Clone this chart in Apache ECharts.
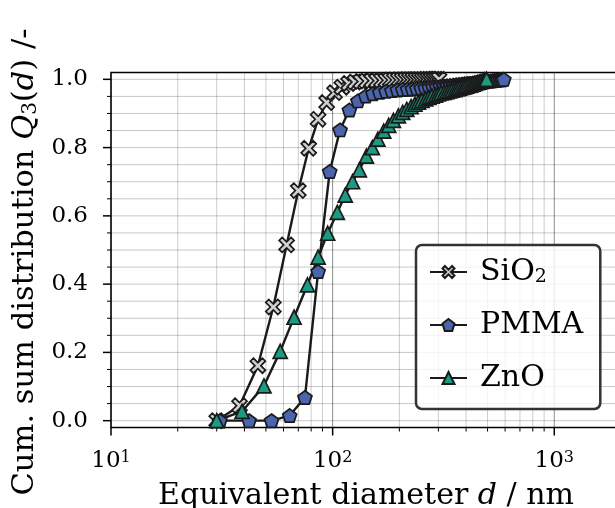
<!DOCTYPE html>
<html>
<head>
<meta charset="utf-8">
<script src="https://cdn.jsdelivr.net/npm/echarts@6/dist/echarts.min.js"></script>
<style>
html, body { margin: 0; padding: 0; background: #fff; }
#main { width: 615px; height: 508px; }
</style>
</head>
<body>
<div id="main"></div>
<script>
// measured data: equivalent diameter (nm) and cumulative Q3
var sio2D = [30, 38, 46, 54, 62, 70, 78, 86, 94, 102, 110, 118, 126, 134, 142, 150, 158, 166, 174, 182,
    190, 198, 206, 214, 222, 230, 238, 246, 254, 262, 270, 278, 286, 294, 302];
var sio2Q = [0.0, 0.044, 0.161, 0.333, 0.515, 0.674, 0.798, 0.883, 0.932, 0.961, 0.977, 0.988, 0.992, 0.994, 0.995, 0.996, 0.996, 0.997, 0.997, 0.998,
    0.998, 0.998, 0.998, 0.999, 0.999, 0.999, 0.999, 0.999, 0.999, 1.0, 1.0, 1.0, 1.0, 1.0, 1.0];

var pmmaD = [31, 42, 53, 64, 75, 86, 97, 108, 119, 130, 141, 152, 163, 174, 185, 196, 207, 218, 229, 240,
    251, 262, 273, 284, 295, 306, 317, 328, 339, 350, 361, 372, 383, 394, 405, 416, 427, 438, 449, 460,
    471, 482, 493, 504, 515, 526, 537, 548, 559, 570, 581, 592];
var pmmaQ = [0.0, 0.0, 0.0, 0.015, 0.068, 0.437, 0.73, 0.852, 0.91, 0.937, 0.951, 0.958, 0.962, 0.965, 0.967, 0.969, 0.970, 0.971, 0.972, 0.973,
    0.974, 0.975, 0.976, 0.977, 0.978, 0.979, 0.980, 0.981, 0.982, 0.983, 0.984, 0.985, 0.986, 0.987, 0.988, 0.988, 0.989, 0.990, 0.991, 0.992,
    0.992, 0.993, 0.994, 0.995, 0.995, 0.996, 0.997, 0.997, 0.998, 0.999, 0.999, 1.0];

var znoD = [30, 39, 49, 58, 67, 77, 86, 95, 105, 114, 123, 132, 142, 151, 160, 170, 179, 188, 198, 207,
    216, 226, 235, 244, 253, 263, 272, 281, 291, 300, 309, 319, 328, 337, 346, 356, 365, 374, 384, 393,
    402, 412, 421, 430, 439, 449, 458, 467, 477, 486, 495];
var znoQ = [0.0, 0.027, 0.102, 0.203, 0.303, 0.398, 0.479, 0.549, 0.61, 0.661, 0.70, 0.735, 0.775, 0.80, 0.825, 0.848, 0.865, 0.88, 0.893, 0.903,
    0.912, 0.92, 0.927, 0.933, 0.938, 0.943, 0.947, 0.951, 0.954, 0.957, 0.96, 0.962, 0.964, 0.966, 0.968, 0.97, 0.972, 0.974, 0.976, 0.978,
    0.98, 0.982, 0.984, 0.986, 0.988, 0.99, 0.992, 0.994, 0.996, 0.998, 1.0];

// ticks / grid lines
var xMajor = [10, 100, 1000];
var xMinor = [20, 30, 40, 50, 60, 70, 80, 90, 200, 300, 400, 500, 600, 700, 800, 900, 2000];
var yMajor = [0, 0.2, 0.4, 0.6, 0.8, 1.0];
var yMinor = [0.05, 0.1, 0.15, 0.25, 0.3, 0.35, 0.45, 0.5, 0.55, 0.65, 0.7, 0.75, 0.85, 0.9, 0.95];

var FONT = "'DejaVu Serif', serif";
var EDGE = '#1a1a1a';

var symX = 'path://M2,0 L5,3 L8,0 L10,2 L7,5 L10,8 L8,10 L5,7 L2,10 L0,8 L3,5 L0,2 Z';
var symPent = 'path://M50,0 L97.6,34.5 L79.4,90.5 L20.6,90.5 L2.4,34.5 Z';

function pairs(d, q) {
    var out = [];
    for (var i = 0; i < d.length; i++) out.push([d[i], q[i]]);
    return out;
}

function makeSeries(name, d, q, symbol, size, color) {
    return {
        name: name,
        type: 'line',
        data: pairs(d, q),
        symbol: symbol,
        symbolSize: size,
        symbolKeepAspect: true,
        showAllSymbol: true,
        z: 3,
        lineStyle: { color: EDGE, width: 2.4 },
        itemStyle: { color: color, borderColor: EDGE, borderWidth: 1.7 }
    };
}

// grid line + tick for x values
function renderXGrid(params, api) {
    var cs = params.coordSys;
    var px = api.coord([api.value(0), 0.5])[0];
    var major = api.value(2) === 1;
    var bottom = cs.y + cs.height;
    return {
        type: 'group',
        children: [
            { type: 'line', shape: { x1: px, y1: cs.y, x2: px, y2: bottom },
              style: { stroke: major ? 'rgba(0,0,0,0.45)' : 'rgba(0,0,0,0.2)', lineWidth: 1 } },
            { type: 'line', shape: { x1: px, y1: bottom, x2: px, y2: bottom + (major ? 8 : 4) },
              style: { stroke: '#000', lineWidth: major ? 1.5 : 1 } }
        ]
    };
}

function renderYGrid(params, api) {
    var cs = params.coordSys;
    var py = api.coord([100, api.value(1)])[1];
    var major = api.value(2) === 1;
    return {
        type: 'group',
        children: [
            { type: 'line', shape: { x1: cs.x, y1: py, x2: cs.x + cs.width, y2: py },
              style: { stroke: 'rgba(0,0,0,0.22)', lineWidth: 1 } },
            { type: 'line', shape: { x1: cs.x - (major ? 8 : 4), y1: py, x2: cs.x, y2: py },
              style: { stroke: '#000', lineWidth: major ? 1.5 : 1 } }
        ]
    };
}

var xGridData = [];
xMajor.forEach(function (v) { xGridData.push([v, 0.5, 1]); });
xMinor.forEach(function (v) { xGridData.push([v, 0.5, 0]); });
var yGridData = [];
yMajor.forEach(function (v) { yGridData.push([100, v, 1]); });
yMinor.forEach(function (v) { yGridData.push([100, v, 0]); });

var chart = echarts.init(document.getElementById('main'));
var option = {
    animation: false,
    backgroundColor: '#fff',
    grid: {
        show: true, left: 111, top: 72.5, width: 510, height: 355,
        outerBoundsMode: 'none', containLabel: false,
        borderColor: '#000', borderWidth: 1.5, backgroundColor: 'transparent'
    },
    legend: {
        data: ['SiO2', 'PMMA', 'ZnO'],
        orient: 'vertical',
        left: 416, top: 245,
        padding: [12, 17, 16, 13],
        itemGap: 23,
        itemWidth: 37,
        itemHeight: 15,
        backgroundColor: 'rgba(255,255,255,0.8)',
        borderColor: '#333', borderWidth: 2.5, borderRadius: 6,
        formatter: function (name) { return name === 'SiO2' ? 'SiO{sub|2}' : name; },
        textStyle: {
            fontFamily: FONT, fontSize: 30, color: '#000', lineHeight: 30, padding: [0, 0, 0, 8],
            rich: { sub: { fontFamily: FONT, fontSize: 19, lineHeight: 12, verticalAlign: 'bottom', color: '#000' } }
        }
    },
    xAxis: {
        type: 'log', logBase: 10, min: 10, max: 2000,
        name: 'Equivalent diameter {i|d} / nm',
        nameLocation: 'middle', nameGap: 54,
        nameTextStyle: {
            fontFamily: FONT, fontSize: 30, color: '#000',
            rich: { i: { fontFamily: FONT, fontSize: 30, fontStyle: 'italic', color: '#000' } }
        },
        axisLine: { show: false },
        axisTick: { show: false },
        splitLine: { show: false },
        axisLabel: {
            margin: 22, showMaxLabel: false,
            fontFamily: FONT, fontSize: 23, color: '#000',
            formatter: function (v) { return '10{sup|' + Math.round(Math.log10(v)) + '}'; },
            rich: { sup: { fontFamily: FONT, fontSize: 16, lineHeight: 13, verticalAlign: 'top', color: '#000' } }
        }
    },
    yAxis: {
        type: 'value', min: -0.02, max: 1.02, splitNumber: 5,
        name: 'Cum. sum distribution {i|Q}{sub|3}({i|d}) /-',
        nameLocation: 'middle', nameGap: 63,
        nameTextStyle: {
            fontFamily: FONT, fontSize: 30.5, color: '#000', padding: [0, 24, 0, 0],
            rich: {
                i: { fontFamily: FONT, fontSize: 30.5, fontStyle: 'italic', color: '#000' },
                sub: { fontFamily: FONT, fontSize: 20, lineHeight: 12, verticalAlign: 'bottom', color: '#000' }
            }
        },
        axisLine: { show: false },
        axisTick: { show: false },
        splitLine: { show: false },
        axisLabel: {
            margin: 23, showMinLabel: false, showMaxLabel: false,
            fontFamily: FONT, fontSize: 23, color: '#000',
            formatter: function (v) { return v.toFixed(1); }
        }
    },
    series: [
        { type: 'custom', renderItem: renderXGrid, data: xGridData, encode: { x: 0, y: 1 }, clip: false, z: 1, silent: true },
        { type: 'custom', renderItem: renderYGrid, data: yGridData, encode: { x: 0, y: 1 }, clip: false, z: 1, silent: true },
        makeSeries('SiO2', sio2D, sio2Q, symX, 15, '#d0d0d0'),
        makeSeries('PMMA', pmmaD, pmmaQ, symPent, 14, '#4a64ad'),
        makeSeries('ZnO', znoD, znoQ, 'triangle', 14, '#1c9b82')
    ]
};
chart.setOption(option);
</script>
</body>
</html>
